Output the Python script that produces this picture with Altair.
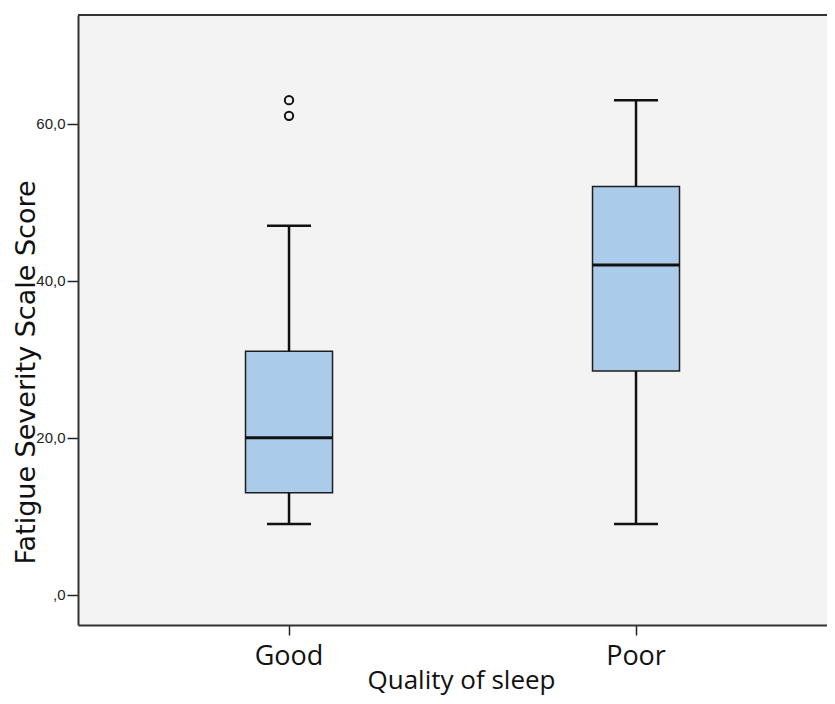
import altair as alt
import pandas as pd

groups = ["Good", "Poor"]
whisker_low = [9, 9]
q1 = [13, 28.5]
median = [20, 42]
q3 = [31, 52]
whisker_high = [47, 63]
outlier_group = ["Good", "Good"]
outlier_value = [63, 61]
y_ticks = [0, 20, 40, 60]

stats = pd.DataFrame({
    "group": groups,
    "low": whisker_low,
    "q1": q1,
    "median": median,
    "q3": q3,
    "high": whisker_high,
})
outliers = pd.DataFrame({"group": outlier_group, "value": outlier_value})

W, H = 749, 610
xscale = alt.Scale(domain=groups, paddingInner=0, paddingOuter=0.0793, align=0.682)
yscale = alt.Scale(domain=[-3.86, 73.85], nice=False, zero=False)

x_axis = alt.Axis(
    title="Quality of sleep",
    labelFont="Open Sans", labelFontSize=27, labelColor="#111", labelAngle=0,
    labelBaseline="alphabetic", labelPadding=29,
    tickSize=10, tickColor="#222", tickWidth=1.5,
    domain=True, domainColor="#333", domainWidth=2,
    titleFont="Open Sans", titleFontSize=26, titleFontWeight="normal", titleColor="#111",
    titleBaseline="alphabetic", titleY=63, titleX=383,
    grid=False,
)
y_axis = alt.Axis(
    title="Fatigue Severity Scale Score",
    values=y_ticks,
    labelExpr="datum.value == 0 ? ',0' : replace(format(datum.value, '.1f'), '.', ',')",
    labelFont="Liberation Sans", labelFontSize=15, labelColor="#222", labelPadding=2,
    tickSize=11, tickColor="#222", tickWidth=1.5,
    domain=True, domainColor="#333", domainWidth=2,
    titleFont="DejaVu Sans", titleFontSize=27, titleFontWeight="normal", titleColor="#111",
    titleBaseline="alphabetic", titleX=-44, titleY=357, titleAngle=-90,
    grid=False,
)

base = alt.Chart(stats)
xenc = alt.X("group:N", scale=xscale, sort=groups)

box = base.mark_bar(size=87, fill="#abcbea", stroke="#1e1e1e", strokeWidth=1.5).encode(
    x=alt.X("group:N", scale=xscale, axis=x_axis, sort=groups),
    y=alt.Y("q1:Q", scale=yscale, axis=y_axis),
    y2="q3:Q",
)
whisk_lo = base.mark_rule(color="#111", strokeWidth=2.5).encode(
    x=xenc, y="low:Q", y2="q1:Q",
)
whisk_hi = base.mark_rule(color="#111", strokeWidth=2.5).encode(
    x=xenc, y="q3:Q", y2="high:Q",
)
cap_lo = base.mark_tick(color="#111", thickness=2.5, size=44, orient="horizontal", opacity=1).encode(
    x=xenc, y="low:Q",
)
cap_hi = base.mark_tick(color="#111", thickness=2.5, size=44, orient="horizontal", opacity=1).encode(
    x=xenc, y="high:Q",
)
med = base.mark_tick(color="#111", thickness=3, size=87, orient="horizontal", opacity=1).encode(
    x=xenc, y="median:Q",
)
pts = alt.Chart(outliers).mark_point(
    shape="circle", size=70, filled=False, color="#111", strokeWidth=2, opacity=1
).encode(
    x=xenc, y="value:Q",
)

top_line = alt.Chart(stats).mark_rule(color="#333", strokeWidth=2).encode(
    x=alt.value(0), x2=alt.value(W), y=alt.value(0)
)

chart = alt.layer(box, whisk_lo, whisk_hi, cap_lo, cap_hi, med, pts, top_line).properties(
    width=W, height=H,
    autosize=alt.AutoSizeParams(type="none"),
    padding={"left": 70, "top": 7, "right": 0, "bottom": 71},
    background="white",
).configure_view(
    fill="#f3f3f3", stroke=None
)

chart.save("out.html", embed_options={"renderer": "svg", "actions": False})
